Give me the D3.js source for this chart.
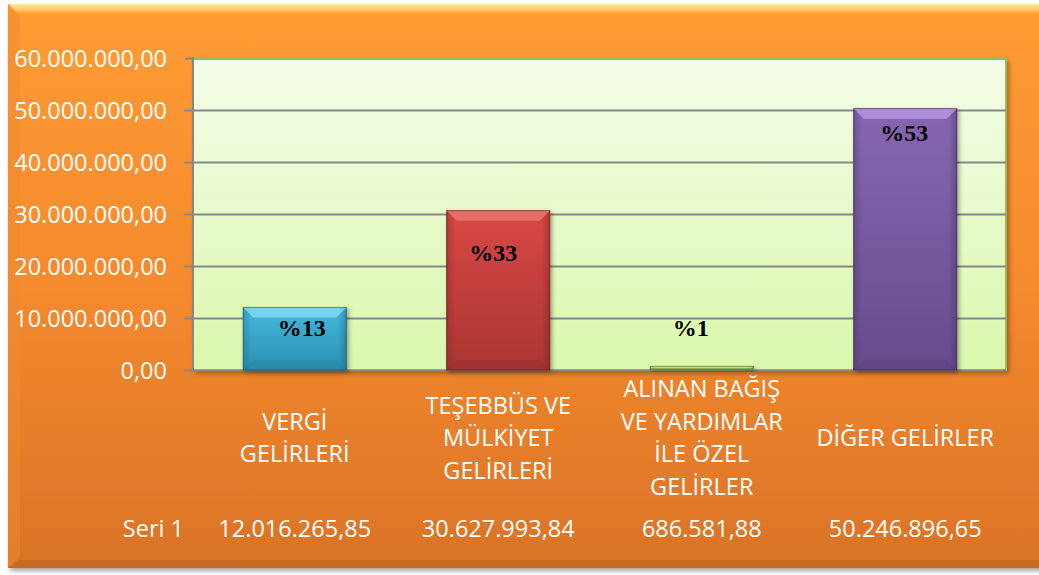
<!DOCTYPE html>
<html lang="tr">
<head>
<meta charset="utf-8">
<title>Gelirler</title>
<script src="https://cdn.jsdelivr.net/npm/d3@7"></script>
<style>
  body { margin: 0; background: #fff; }
  svg { display: block; }
  .tick text { font-family: "Open Sans", sans-serif; }
</style>
</head>
<body>
<div id="chart"></div>
<script>
// data
var categories = ["VERGİ GELİRLERİ", "TEŞEBBÜS VE MÜLKİYET GELİRLERİ", "ALINAN BAĞIŞ VE YARDIMLAR İLE ÖZEL GELİRLER", "DİĞER GELİRLER"];
var categoryLines = [["VERGİ", "GELİRLERİ"], ["TEŞEBBÜS VE", "MÜLKİYET", "GELİRLERİ"], ["ALINAN BAĞIŞ", "VE YARDIMLAR", "İLE ÖZEL", "GELİRLER"], ["DİĞER GELİRLER"]];
var values = [12016265.85, 30627993.84, 686581.88, 50246896.65];
var pctLabels = ["%13", "%33", "%1", "%53"];
var seriesName = "Seri 1";
var yTicks = [0, 10000000, 20000000, 30000000, 40000000, 50000000, 60000000];

// styling
var barColors = [
  {top: "#45b9dc", bot: "#2b8fb2", bevel: "#86def6", edge: "#1d6581"},
  {top: "#d94845", bot: "#a93533", bevel: "#ec7a77", edge: "#7a2221"},
  {top: "#9dc35e", bot: "#7fa447", bevel: "#c5e58f", edge: "#5d7a30"},
  {top: "#8766b2", bot: "#674b8d", bevel: "#bb9ce6", edge: "#46325f"}
];
// label offsets (dx from bar centre, dy from bar top), as placed in the original
var labelOffsets = [[7, 20], [-5, 42], [-11, -39], [-1, 24]];

var W = 1039, H = 575;
var plot = {left: 193, right: 1007, top: 58, bottom: 370};
var fontSize = "23.5px";

var tr = d3.formatLocale({decimal: ",", thousands: ".", grouping: [3], currency: ["", ""]});
var fmt = tr.format(",.2f");

var svg = d3.select("#chart").append("svg").attr("width", W).attr("height", H);
var defs = svg.append("defs");

var g1 = defs.append("linearGradient").attr("id", "panelGrad").attr("x1", 0).attr("y1", 0).attr("x2", 0).attr("y2", 1);
g1.append("stop").attr("offset", "0").attr("stop-color", "#ff9c33");
g1.append("stop").attr("offset", "0.5").attr("stop-color", "#f58a2e");
g1.append("stop").attr("offset", "1").attr("stop-color", "#d97327");

var g2 = defs.append("linearGradient").attr("id", "plotGrad").attr("x1", 0).attr("y1", 0).attr("x2", 0).attr("y2", 1);
g2.append("stop").attr("offset", "0").attr("stop-color", "#f4fde9");
g2.append("stop").attr("offset", "1").attr("stop-color", "#dbf8ac");

var g3 = defs.append("linearGradient").attr("id", "topBevel").attr("x1", 0).attr("y1", 0).attr("x2", 0).attr("y2", 1);
g3.append("stop").attr("offset", "0").attr("stop-color", "#ffe7a6");
g3.append("stop").attr("offset", "0.5").attr("stop-color", "#ffc768");
g3.append("stop").attr("offset", "1").attr("stop-color", "#ff9c33").attr("stop-opacity", 0);

var sh = defs.append("filter").attr("id", "shadow").attr("x", "-5%").attr("y", "-5%").attr("width", "115%").attr("height", "120%");
sh.append("feDropShadow").attr("dx", 2).attr("dy", 3).attr("stdDeviation", 2.5).attr("flood-color", "#000").attr("flood-opacity", 0.35);

var sh2 = defs.append("filter").attr("id", "shadowSmall").attr("x", "-20%").attr("y", "-20%").attr("width", "150%").attr("height", "150%");
sh2.append("feDropShadow").attr("dx", 2).attr("dy", 2).attr("stdDeviation", 2).attr("flood-color", "#000").attr("flood-opacity", 0.35);

barColors.forEach(function(c, i) {
  var g = defs.append("linearGradient").attr("id", "bar" + i).attr("x1", 0).attr("y1", 0).attr("x2", 0).attr("y2", 1);
  g.append("stop").attr("offset", "0").attr("stop-color", c.top);
  g.append("stop").attr("offset", "1").attr("stop-color", c.bot);
  var s = defs.append("linearGradient").attr("id", "side" + i).attr("x1", 0).attr("y1", 0).attr("x2", 1).attr("y2", 0);
  s.append("stop").attr("offset", "0").attr("stop-color", c.edge).attr("stop-opacity", 0.35);
  s.append("stop").attr("offset", "0.08").attr("stop-color", c.edge).attr("stop-opacity", 0);
  s.append("stop").attr("offset", "0.92").attr("stop-color", c.edge).attr("stop-opacity", 0);
  s.append("stop").attr("offset", "1").attr("stop-color", c.edge).attr("stop-opacity", 0.45);
});

// orange panel
svg.append("rect").attr("x", 8).attr("y", 4).attr("width", W).attr("height", 564)
  .attr("fill", "url(#panelGrad)").attr("filter", "url(#shadow)");
svg.append("path").attr("d", "M8,4 L" + W + ",4 L" + W + ",16 L20,16 Z").attr("fill", "url(#topBevel)");
svg.append("path").attr("d", "M8,4 L20,16 L20,556 L8,568 Z").attr("fill", "#f08a2e").attr("opacity", 0.5);
svg.append("path").attr("d", "M8,568 L20,560 L" + W + ",560 L" + W + ",568 Z").attr("fill", "#b8601f").attr("opacity", 0.55);

// scales
var x = d3.scaleBand().domain(categories).range([plot.left, plot.right]).paddingInner(0.494).paddingOuter(0.247);
var y = d3.scaleLinear().domain([0, 60000000]).range([plot.bottom, plot.top]);

// plot area
svg.append("rect").attr("x", plot.left).attr("y", plot.top)
  .attr("width", plot.right - plot.left).attr("height", plot.bottom - plot.top)
  .attr("fill", "url(#plotGrad)").attr("filter", "url(#shadow)");
svg.append("line").attr("x1", plot.left).attr("x2", plot.right - 1).attr("y1", plot.top + 1).attr("y2", plot.top + 1)
  .attr("stroke", "#9bbb59").attr("stroke-width", 2);
svg.append("line").attr("x1", plot.right - 1).attr("x2", plot.right - 1).attr("y1", plot.top).attr("y2", plot.bottom)
  .attr("stroke", "#9bbb59").attr("stroke-width", 2);
svg.append("line").attr("x1", plot.left).attr("x2", plot.right).attr("y1", plot.bottom).attr("y2", plot.bottom)
  .attr("stroke", "#a6c46a").attr("stroke-width", 1.5);

// y axis with gridlines
var yAxis = d3.axisLeft(y).tickValues(yTicks).tickSize(plot.right - 1 - plot.left + 9).tickPadding(18).tickFormat(fmt);
var ya = svg.append("g").attr("transform", "translate(" + (plot.right - 1) + ",0)").call(yAxis);
ya.select(".domain").remove();
ya.selectAll(".tick line").attr("stroke", "#878787").attr("stroke-width", 2);
ya.selectAll(".tick").filter(function(d) { return d === 60000000; }).select("line").attr("x2", -(plot.right - plot.left + 7)).attr("x1", -(plot.right - plot.left - 1));
ya.selectAll(".tick text").attr("fill", "#fff").attr("font-size", fontSize).attr("dy", "0.36em")
  .attr("x", -(plot.right - 1 - 167));
svg.append("line").attr("x1", plot.left).attr("x2", plot.left).attr("y1", plot.top - 1).attr("y2", plot.bottom + 1)
  .attr("stroke", "#878787").attr("stroke-width", 2);

// bars
var bars = svg.append("g").selectAll("g").data(values).enter().append("g")
  .attr("filter", "url(#shadowSmall)");
bars.each(function(v, i) {
  var g = d3.select(this);
  var bx = x(categories[i]), bw = x.bandwidth();
  var by = y(v), bh = y(0) - y(v);
  var c = barColors[i];
  g.append("rect").attr("x", bx).attr("y", by).attr("width", bw).attr("height", bh)
    .attr("fill", "url(#bar" + i + ")").attr("stroke", c.edge).attr("stroke-width", 1);
  g.append("rect").attr("x", bx).attr("y", by).attr("width", bw).attr("height", bh)
    .attr("fill", "url(#side" + i + ")");
  var bev = Math.min(10, bh / 2);
  g.append("path")
    .attr("d", "M" + bx + "," + by + " L" + (bx + bw) + "," + by + " L" + (bx + bw - bev) + "," + (by + bev) +
      " L" + (bx + bev) + "," + (by + bev) + " Z")
    .attr("fill", c.bevel).attr("opacity", 0.75);
  g.append("path")
    .attr("d", "M" + bx + "," + (by + bh) + " L" + (bx + bw) + "," + (by + bh) + " L" + (bx + bw - bev) + "," + (by + bh - bev) +
      " L" + (bx + bev) + "," + (by + bh - bev) + " Z")
    .attr("fill", c.edge).attr("opacity", 0.15);
});

// percentage labels
svg.append("g").selectAll("text").data(pctLabels).enter().append("text")
  .attr("x", function(d, i) { return x(categories[i]) + x.bandwidth() / 2 + labelOffsets[i][0]; })
  .attr("y", function(d, i) { return y(values[i]) + labelOffsets[i][1]; })
  .attr("dy", "0.35em")
  .attr("text-anchor", "middle")
  .attr("font-family", "'Liberation Serif', 'Times New Roman', serif")
  .attr("font-weight", "bold")
  .attr("font-size", "24px")
  .attr("fill", "#000")
  .text(function(d) { return d; });

// category labels
var lineH = 32.5, midBase = 446;
var cat = svg.append("g").selectAll("text").data(categories).enter().append("text")
  .attr("text-anchor", "middle")
  .attr("font-family", "'Open Sans', sans-serif")
  .attr("font-size", fontSize)
  .attr("fill", "#fff");
cat.each(function(d, i) {
  var lines = categoryLines[i];
  var t = d3.select(this);
  var cx = x(d) + x.bandwidth() / 2;
  var y0 = midBase - (lines.length - 1) * lineH / 2;
  lines.forEach(function(l, k) {
    t.append("tspan").attr("x", cx).attr("y", y0 + k * lineH).text(l);
  });
});

// data table row
svg.append("text").attr("x", 184).attr("y", 537).attr("text-anchor", "end")
  .attr("font-family", "'Open Sans', sans-serif").attr("font-size", fontSize).attr("fill", "#fff")
  .text(seriesName);
svg.append("g").selectAll("text").data(values).enter().append("text")
  .attr("x", function(d, i) { return x(categories[i]) + x.bandwidth() / 2; })
  .attr("y", 537)
  .attr("text-anchor", "middle")
  .attr("font-family", "'Open Sans', sans-serif")
  .attr("font-size", fontSize)
  .attr("fill", "#fff")
  .text(function(d) { return fmt(d); });
</script>
</body>
</html>
